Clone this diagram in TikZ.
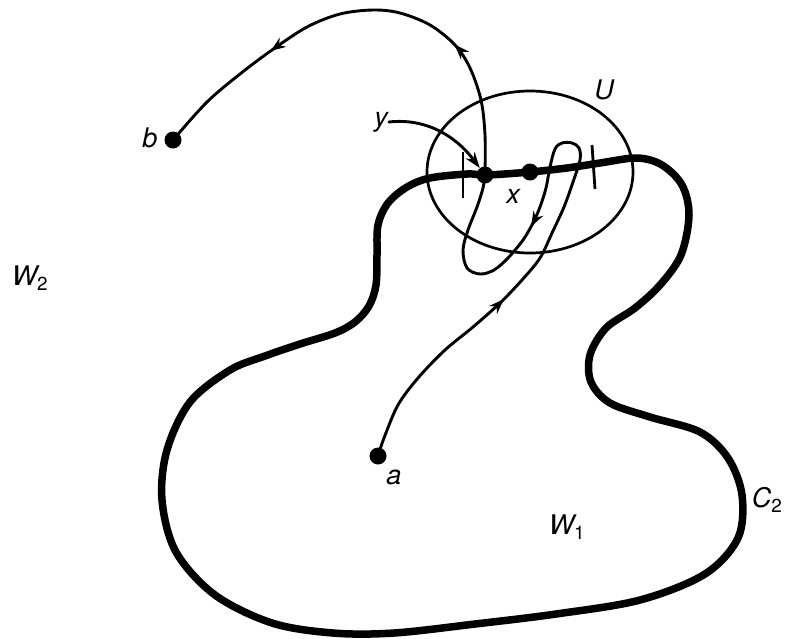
\documentclass[tikz,border=0pt]{standalone}
\usepackage{fontspec}
\setmainfont{TeX Gyre Heros}
\usetikzlibrary{arrows.meta,decorations.markings}
\begin{document}
\begin{tikzpicture}[x=1pt,y=-1pt,
  boundary/.style={line width=7.5pt, line join=round},
  thinpath/.style={line width=2.9pt, line cap=round},
  dot/.style={circle, fill=black, inner sep=0pt, minimum size=17pt},
  lab/.style={font=\fontsize{27}{29}\selectfont\itshape, inner sep=1pt},
  twoarrows/.style 2 args={postaction={decorate, decoration={markings,
     mark=at position #1 with {\arrow{Stealth[length=15pt,width=11pt]}},
     mark=at position #2 with {\arrow{Stealth[length=15pt,width=11pt]}}}}},
  tickbar/.style={line width=2.8pt}
]
\useasboundingbox (0,0) rectangle (787,638);

% boundary C2
\draw[boundary] plot[smooth cycle, tension=0.55] coordinates {
 (430,178) (467,174) (487,175) (530,172) (567,168) (600,163) (637,158)
 (662,165) (682,185) (689,215) (681,255) (660,285) (635,308) (606,328)
 (590,355) (591,382) (610,403) (650,417) (700,432) (728,458) (742,495)
 (738,538) (705,574) (640,600) (556,614) (475,624) (394,633) (333,633)
 (272,623) (215,595) (176,552) (162,500) (167,450) (190,402) (230,370)
 (265,356) (300,344) (335,333) (355,322) (369,306) (376,285) (377,255)
 (378,225) (388,203) (407,187)};

% neighbourhood U
\draw[line width=2.7pt] (530,172) ellipse [x radius=103pt, y radius=81pt];

% points
\node[dot] (a) at (378,456) {};
\node[dot] (b) at (173,140) {};
\node[dot] (y) at (485,175) {};
\node[dot] (x) at (530,172) {};

% path from a to y
\draw[thinpath, twoarrows={0.305}{0.726}] plot[smooth, tension=0.55] coordinates {
 (a.center) (384,438) (398,405) (418,378) (445,350) (473,327) (500,303)
 (522,280) (540,258) (552,233) (564,207) (573,182) (580,160) (579,148)
 (572,143) (562,143) (555,149) (550,167) (546,188) (540,207) (533,223)
 (523,240) (508,258) (494,270) (480,274) (467,268) (463,250) (468,230)
 (477,207) (483,188) (y.center)};

% path from y to b
\draw[thinpath, twoarrows={0.29}{0.72}] plot[smooth, tension=0.55] coordinates {
 (y.center) (485,135) (481,100) (470,68) (455,45) (430,25) (400,13)
 (373,10) (340,14) (307,27) (272,50) (240,74) (207,102) (b.center)};

% ticks
\coordinate (t1a) at (463,152); \coordinate (t1b) at (463,198);
\coordinate (t2a) at (592,145); \coordinate (t2b) at (595,189);
\draw[tickbar] (t1a) -- (t1b);
\draw[tickbar] (t2a) -- (t2b);

% labels
\node[lab] (ylab) at (381,122) {y};
\draw[thinpath, -{Stealth[length=16pt,width=11pt]}] (ylab.east) .. controls (425,118) and (455,135) .. (y);
\node[lab] (blab) at (150,138) {b};
\node[lab] (alab) at (394,477) {a};
\node[lab] (xlab) at (513,196) {x};
\node[lab] (Ulab) at (604,90) {U};
\node[lab] (W2) at (30,278) {W\textsubscript{\upshape 2}};
\node[lab] (W1) at (567,527) {W\textsubscript{\upshape 1}};
\node[lab] (C2) at (767,500) {C\textsubscript{\upshape 2}};
\end{tikzpicture}
\end{document}
